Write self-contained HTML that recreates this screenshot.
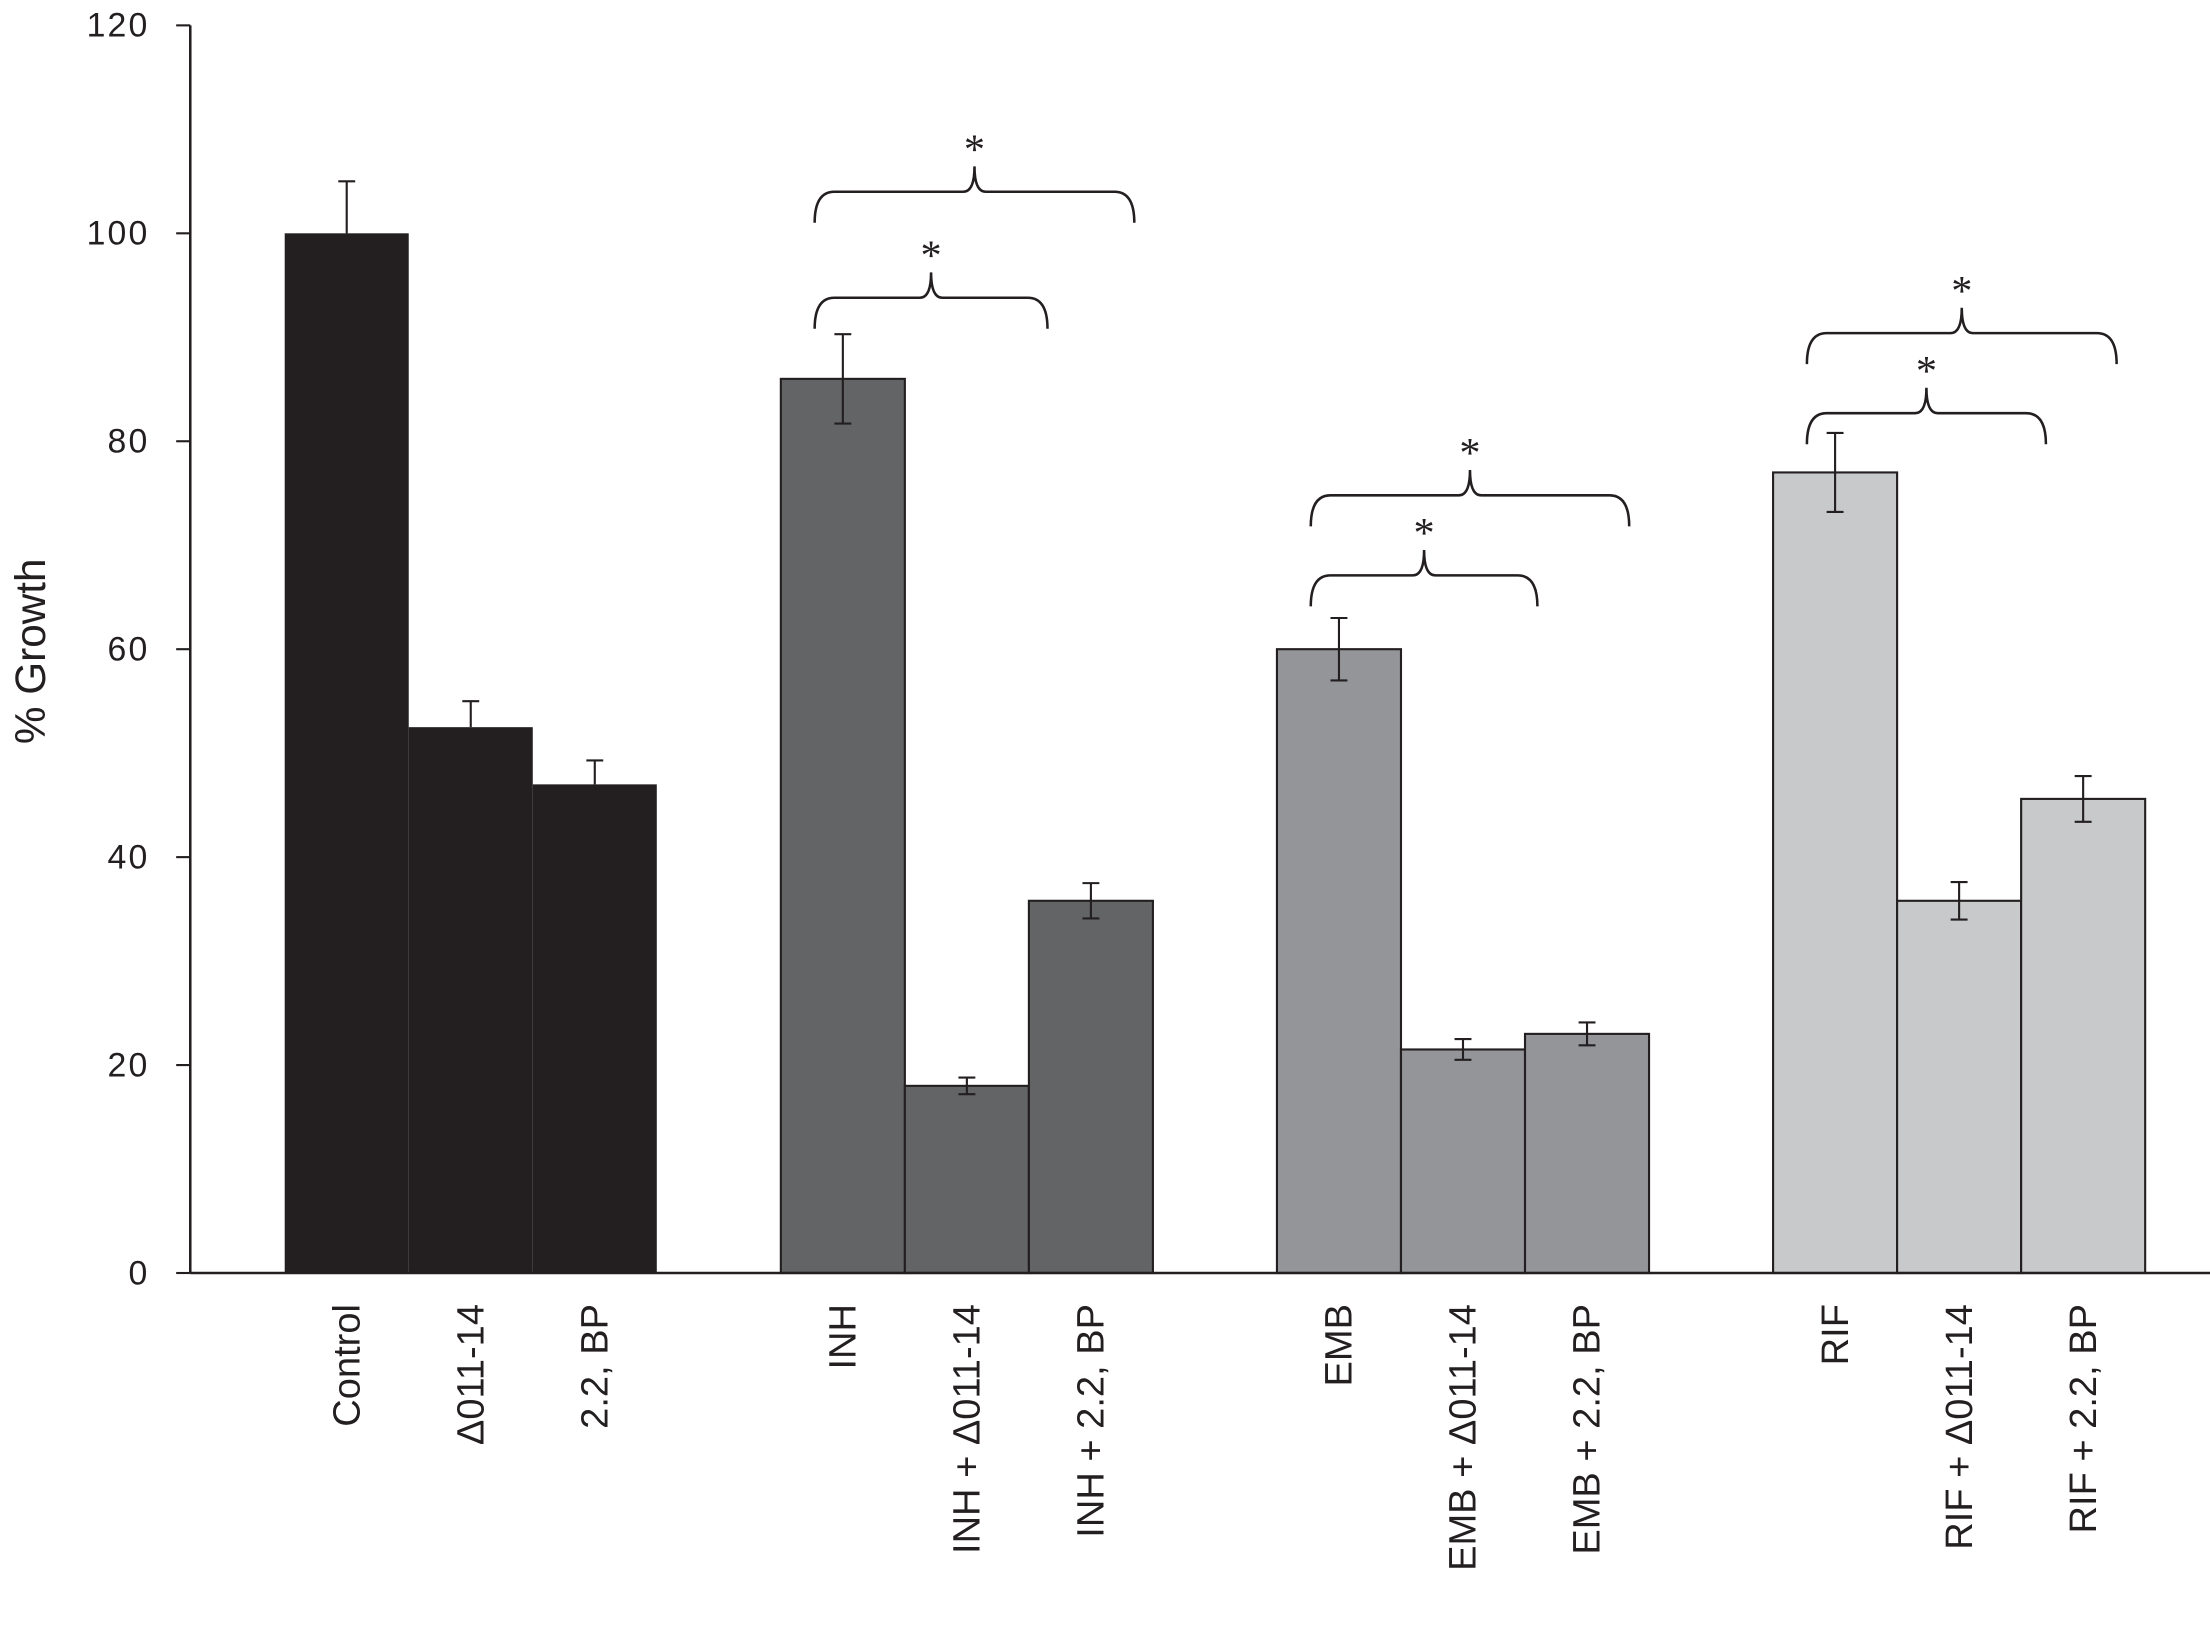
<!DOCTYPE html>
<html><head><meta charset="utf-8"><style>html,body{margin:0;padding:0;background:#fff}svg{display:block}</style></head>
<body>
<svg id="chart" width="2210" height="1648" viewBox="0 0 1568 1169" preserveAspectRatio="none" xmlns="http://www.w3.org/2000/svg" font-family="Liberation Sans, Arial, sans-serif">
</svg>
<script>
const categories = ["Control","\u0394011-14","2.2, BP","INH","INH + \u0394011-14","INH + 2.2, BP","EMB","EMB + \u0394011-14","EMB + 2.2, BP","RIF","RIF + \u0394011-14","RIF + 2.2, BP"];
const values = [100,52.5,47,86,18,35.8,60,21.5,23,77,35.8,45.6];
const errors = [5,2.5,2.3,4.3,0.8,1.7,3,1,1.1,3.8,1.8,2.2];
const yTicks = [0,20,40,60,80,100,120];
const groupColors = ["#231f20","#636466","#939598","#c8c9cb"];
// brackets: [group, end (in bar units from group start), level value]
const brackets = [[1,2.15,93.8],[1,2.85,104],[2,2.1,67.1],[2,2.84,74.8],[3,2.2,82.7],[3,2.77,90.4]];

const svg = document.getElementById('chart');
const NS = "http://www.w3.org/2000/svg";
const X0 = 135, Y0 = 903, YTOP = 18, YMAX = 120;
const y = v => Y0 - (v / YMAX) * (Y0 - YTOP);
const barW = 88;
const gx = g => 202 + g*352;
const xb = i => gx(Math.floor(i/3)) + (i%3)*barW;
function mk(tag, attrs, parent){ const e=document.createElementNS(NS,tag); for(const k in attrs) e.setAttribute(k,attrs[k]); (parent||svg).appendChild(e); return e; }

values.forEach((v,i)=>{
  const g = Math.floor(i/3);
  const r = mk('rect',{x:xb(i),y:y(v),width:barW,height:Y0-y(v),fill:groupColors[g],stroke:'#231f20','stroke-width':g===0?0:1.5});
  
  
  const cx = xb(i)+barW/2, e = errors[i];
  const lo = g===0 ? v : v-e;
  const eb = mk('path',{d:`M${cx},${y(v+e)}V${y(lo)}M${cx-6},${y(v+e)}H${cx+6}`+(g===0?'':`M${cx-6},${y(lo)}H${cx+6}`),stroke:'#231f20','stroke-width':1.5,fill:'none'});
  
  
  const t = mk('text',{transform:`translate(${cx+9},925) rotate(-90)`,'text-anchor':'end','font-size':27,fill:'#231f20'});
  t.textContent = categories[i];
  
  
});

const ax = mk('path',{d:`M${X0},${YTOP}V${Y0}M${X0},${Y0}H1568`,stroke:'#231f20','stroke-width':1.8,fill:'none'});


yTicks.forEach(v=>{
  const tk = mk('path',{d:`M${X0-10},${y(v)}H${X0}`,stroke:'#231f20','stroke-width':1.5});
  
  
  const tl = mk('text',{x:106,y:y(v)+8,'text-anchor':'end','font-size':24,'letter-spacing':1.5,fill:'#231f20'});
  tl.textContent = v;
  
  
});
const yt = mk('text',{transform:'translate(32,462) rotate(-90)','text-anchor':'middle','font-size':30,fill:'#231f20'});
yt.textContent = '% Growth';



brackets.forEach((b,k)=>{
  const x1 = gx(b[0])+24, x2 = gx(b[0])+b[1]*barW, yl = y(b[2]);
  const mid = (x1+x2)/2;
  const d = `M${x1},${yl+22}Q${x1},${yl} ${x1+14},${yl}H${mid-8}Q${mid},${yl} ${mid},${yl-18}Q${mid},${yl} ${mid+8},${yl}H${x2-14}Q${x2},${yl} ${x2},${yl+22}`;
  const p = mk('path',{d,stroke:'#231f20','stroke-width':1.8,fill:'none'});
  
  
  const s = mk('text',{x:mid,y:yl-20,'text-anchor':'middle','font-size':30,'font-family':'Liberation Serif, serif',fill:'#231f20'});
  s.textContent = '*';
  
  
});
</script>
</body></html>
